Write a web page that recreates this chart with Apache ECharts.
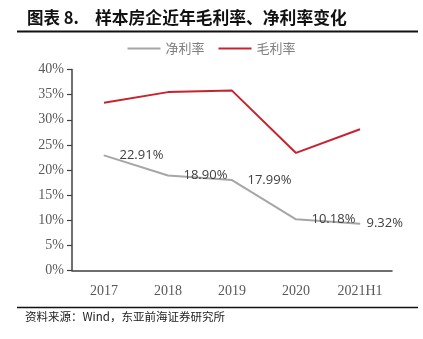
<!DOCTYPE html>
<html><head><meta charset="utf-8">
<script src="https://cdn.jsdelivr.net/npm/echarts@6/dist/echarts.min.js"></script>
<style>html,body{margin:0;padding:0;background:#fff}#c{width:423px;height:339px}</style>
</head><body><div id="c"></div>
<script>
var categories = ['2017','2018','2019','2020','2021H1'];
var netMargin = [22.91, 18.90, 17.99, 10.18, 9.32];
var grossMargin = [33.4, 35.5, 35.8, 23.4, 28.1];
var yTicks = [0,5,10,15,20,25,30,35,40];

var chart = echarts.init(document.getElementById('c'));
var cjk = '"Noto Sans CJK SC", sans-serif';
var serif = '"Liberation Serif", "DejaVu Serif", serif';
var netData = netMargin.map(function(v, i){
  var d = {value: v};
  if (i === netMargin.length - 1) d.label = {distance: 6};
  return d;
});
chart.setOption({
  animation: false,
  backgroundColor: '#fff',
  graphic: [
    {type:'text', left: 27, top: 9, style:{text:'图表 8.', font:'bold 16.5px ' + cjk, fill:'#111'}},
    {type:'text', left: 95, top: 9, style:{text:'样本房企近年毛利率、净利率变化', font:'bold 16.8px ' + cjk, fill:'#111'}},
    {type:'line', shape:{x1:17,y1:31.5,x2:418,y2:31.5}, style:{stroke:'#111', lineWidth:2}},
    {type:'line', shape:{x1:17,y1:307.5,x2:418,y2:307.5}, style:{stroke:'#111', lineWidth:1.5}},
    {type:'text', left: 25, top: 311, style:{text:'资料来源：Wind，东亚前海证券研究所', font:'11.5px ' + cjk, fill:'#222'}}
  ],
  legend: {
    top: 37, left: 'center',
    itemWidth: 33, itemHeight: 2, itemGap: 14,
    icon: 'rect',
    textStyle: {fontFamily: cjk, fontSize: 13, color: '#7f7f7f'},
    data: ['净利率','毛利率']
  },
  grid: {left: 72, right: 31, top: 69.5, bottom: 68.5},
  xAxis: {
    type: 'category', data: categories, boundaryGap: true,
    axisLine: {lineStyle: {color: '#404040', width: 1.5}},
    axisTick: {show: false},
    axisLabel: {fontFamily: serif, fontSize: 14, color: '#595959', margin: 14}
  },
  yAxis: {
    type: 'value', min: 0, max: 40, interval: 5,
    axisLine: {show: true, lineStyle: {color: '#404040', width: 1.5}},
    axisTick: {show: true, length: 5, lineStyle: {color: '#404040', width: 1.2}},
    splitLine: {show: false},
    axisLabel: {fontFamily: serif, fontSize: 14, color: '#595959', margin: 8,
      formatter: function(v){ return v + '%'; }}
  },
  series: [
    {name: '净利率', type: 'line', data: netData, symbol: 'circle', symbolSize: 1, showSymbol: true,
      lineStyle: {color: '#a6a6a6', width: 2}, itemStyle: {color: '#a6a6a6'},
      label: {show: true, position: 'right', distance: 15, fontFamily: '"Open Sans", sans-serif', fontSize: 13, color: '#404040',
        formatter: function(p){ return p.value.toFixed(2) + '%'; }},
      labelLayout: {hideOverlap: false}
    },
    {name: '毛利率', type: 'line', data: grossMargin, symbol: 'none',
      lineStyle: {color: '#c8222e', width: 2}, itemStyle: {color: '#c8222e'}}
  ]
});
</script></body></html>
